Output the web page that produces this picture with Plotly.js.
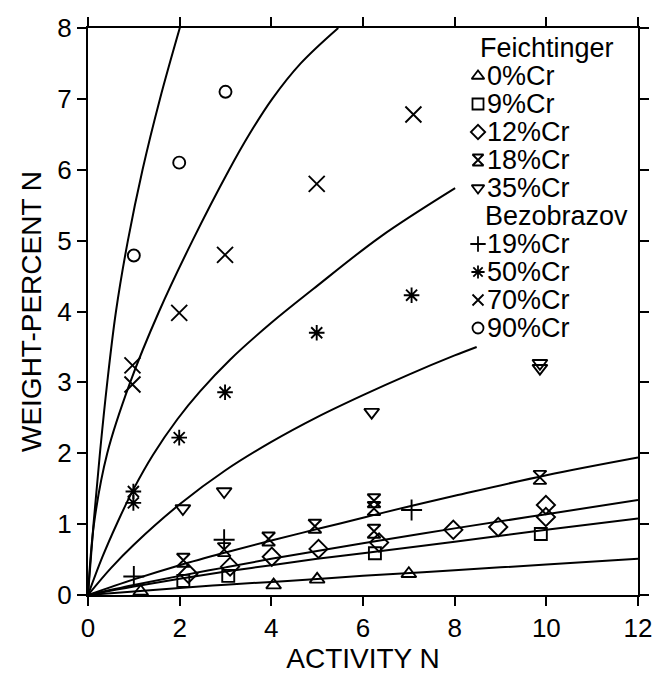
<!DOCTYPE html>
<html>
<head>
<meta charset="utf-8">
<script src="https://cdn.plot.ly/plotly-3.0.1.min.js"></script>
<style>html,body{margin:0;padding:0;background:#fff;}#chart{width:653px;height:681px;}</style>
</head>
<body>
<div id="chart"></div>
<script>
// ---- Data ----
// Feichtinger
const cr0X = [1.15, 4.05, 5.0, 7.0];
const cr0Y = [0.05, 0.14, 0.22, 0.30];
const cr9X = [2.08, 3.06, 6.26, 9.88];
const cr9Y = [0.20, 0.27, 0.59, 0.86];
const cr12X = [2.19, 3.1, 4.01, 5.03, 6.35, 7.97, 8.95, 9.99, 9.99];
const cr12Y = [0.30, 0.40, 0.54, 0.65, 0.74, 0.92, 0.96, 1.10, 1.27];
const cr18X = [2.08, 2.97, 3.94, 4.95, 6.24, 6.24, 6.24, 9.86];
const cr18Y = [0.49, 0.64, 0.79, 0.97, 1.33, 1.22, 0.90, 1.66];
const cr35X = [2.07, 2.97, 6.19, 9.86, 9.86];
const cr35Y = [1.22, 1.46, 2.58, 3.27, 3.20];
// Bezobrazov
const cr19X = [1.0, 2.97, 7.06];
const cr19Y = [0.26, 0.78, 1.20];
const cr50X = [0.99, 0.99, 1.99, 2.99, 4.99, 7.06];
const cr50Y = [1.46, 1.30, 2.22, 2.86, 3.70, 4.23];
const cr70X = [0.97, 0.97, 1.99, 2.99, 4.99, 7.10];
const cr70Y = [3.24, 2.97, 3.98, 4.80, 5.80, 6.78];
const cr90X = [1.0, 1.99, 3.0];
const cr90Y = [4.79, 6.10, 7.10];

// Fitted curves
const fit90X = [0, 0.12, 0.26, 0.42, 0.61, 0.87, 1.19, 1.57, 2.02];
const fit90Y = [0, 1, 2, 3, 4, 5, 6, 7, 8.04];
const fit70X = [0, 0.13, 0.42, 0.92, 1.55, 2.28, 3.08, 3.52, 4.02, 4.64, 5.46];
const fit70Y = [0, 1, 2, 3, 4, 5, 6, 6.5, 7, 7.5, 8.0];
const fit50X = [0, 0.31, 0.64, 0.99, 1.42, 1.95, 2.44, 3.1, 4.0, 4.92, 6.37, 8.01];
const fit50Y = [0, 0.53, 1.02, 1.49, 1.98, 2.48, 2.87, 3.32, 3.84, 4.32, 5.05, 5.74];
const fit35X = [0, 0.5, 1, 2, 3, 4, 5, 6, 7, 8, 8.48];
const fit35Y = [0, 0.38, 0.71, 1.28, 1.76, 2.16, 2.51, 2.82, 3.11, 3.38, 3.50];
const fit18X = [0, 1, 2, 3, 4, 5, 6, 7, 8, 10, 12];
const fit18Y = [0, 0.22, 0.42, 0.60, 0.77, 0.93, 1.09, 1.25, 1.40, 1.69, 1.94];
const fit12X = [0, 1, 2, 3, 4, 5, 6, 8, 10, 12];
const fit12Y = [0, 0.14, 0.27, 0.39, 0.51, 0.62, 0.73, 0.94, 1.14, 1.34];
const fit9X = [0, 1, 2, 3, 4, 5, 6, 8, 10, 12];
const fit9Y = [0, 0.12, 0.23, 0.33, 0.42, 0.51, 0.59, 0.75, 0.92, 1.08];
const fit0X = [0, 1, 2, 3, 4, 5, 6, 8, 10, 12];
const fit0Y = [0, 0.05, 0.10, 0.145, 0.185, 0.225, 0.27, 0.35, 0.43, 0.51];

// Legend content
const legendRows = ["Feichtinger", "0%Cr", "9%Cr", "12%Cr", "18%Cr", "35%Cr",
                    "Bezobrazov", "19%Cr", "50%Cr", "70%Cr", "90%Cr"];
const legendSymbols = [null, "triangle-up-open", "square-open", "diamond-open", "hourglass-open",
                       "triangle-down-open", null, "cross-thin-open", "asterisk-open",
                       "x-thin-open", "circle-open"];

// ---- Build traces ----
const FONT = "Liberation Sans, Arial, Helvetica, sans-serif";
const traces = [];
const curves = [[fit90X, fit90Y], [fit70X, fit70Y], [fit50X, fit50Y], [fit35X, fit35Y],
                [fit18X, fit18Y], [fit12X, fit12Y], [fit9X, fit9Y], [fit0X, fit0Y]];
curves.forEach(c => traces.push({
  x: c[0], y: c[1], mode: "lines", type: "scatter",
  line: {color: "#000", width: 2, shape: "spline", smoothing: 1},
  hoverinfo: "skip", showlegend: false
}));

function pts(x, y, symbol, size) {
  return {x: x, y: y, mode: "markers", type: "scatter", showlegend: false,
    cliponaxis: false,
    marker: {symbol: symbol, size: size, color: "#000",
             line: {color: "#000", width: 1.9}}};
}
traces.push(pts(cr0X, cr0Y, "triangle-up-open", 13));
traces.push(pts(cr9X, cr9Y, "square-open", 12));
traces.push(pts(cr12X, cr12Y, "diamond-open", 14));
traces.push(pts(cr18X, cr18Y, "hourglass-open", 13));
traces.push(pts(cr35X, cr35Y, "triangle-down-open", 13));
traces.push(pts(cr19X, cr19Y, "cross-thin-open", 15));
traces.push(pts(cr50X, cr50Y, "asterisk-open", 13));
traces.push(pts(cr70X, cr70Y, "x-thin-open", 16));
traces.push(pts(cr90X, cr90Y, "circle-open", 12));

// Legend (layout): rows placed on an overlay axis spanning the plot area
const plotTop = 28, plotBottom = 595, plotLeft = 88, plotRight = 638;
const rowPy = legendRows.map((_, i) => 48 + 28 * i);
const toPaperY = py => (plotBottom - py) / (plotBottom - plotTop);
const toPaperX = px => (px - plotLeft) / (plotRight - plotLeft);
const symX = [], symY = [], symS = [];
const annotations = [];
legendRows.forEach((txt, i) => {
  const yp = toPaperY(rowPy[i]);
  let left;
  if (legendSymbols[i]) {
    symX.push(toPaperX(478)); symY.push(yp); symS.push(legendSymbols[i]);
    left = 485;
  } else {
    left = (i === 0) ? 478 : 483;
  }
  annotations.push({xref: "paper", yref: "paper", x: toPaperX(left), y: yp,
    xanchor: "left", yanchor: "middle", text: txt, showarrow: false,
    font: {family: FONT, size: 27, color: "#000"}});
});
traces.push({x: symX, y: symY, xaxis: "x2", yaxis: "y2", mode: "markers", type: "scatter",
  showlegend: false, hoverinfo: "skip", cliponaxis: false,
  marker: {symbol: symS, size: 11, color: "#000", line: {color: "#000", width: 1.8}}});

const axisCommon = {
  showgrid: false, zeroline: false, showline: true, linecolor: "#000", linewidth: 2,
  ticks: "outside", ticklen: 9, tickwidth: 2, tickcolor: "#000", mirror: "ticks",
  tickfont: {family: FONT, size: 26, color: "#000"}
};

const layout = {
  width: 653, height: 681,
  margin: {l: 88, r: 15, t: 28, b: 86},
  paper_bgcolor: "#fff", plot_bgcolor: "#fff",
  showlegend: false,
  xaxis: Object.assign({}, axisCommon, {
    range: [0, 12], dtick: 2, tick0: 0,
    title: {text: "ACTIVITY N", font: {family: FONT, size: 28, color: "#000"}, standoff: 6}
  }),
  yaxis: Object.assign({}, axisCommon, {
    range: [0, 8], dtick: 1, tick0: 0,
    title: {text: "WEIGHT-PERCENT N", font: {family: FONT, size: 28, color: "#000"}, standoff: 8}
  }),
  xaxis2: {overlaying: "x", range: [0, 1], visible: false, fixedrange: true},
  yaxis2: {overlaying: "y", range: [0, 1], visible: false, fixedrange: true},
  annotations: annotations
};

Plotly.newPlot("chart", traces, layout, {staticPlot: true, displayModeBar: false});
</script>
</body>
</html>
